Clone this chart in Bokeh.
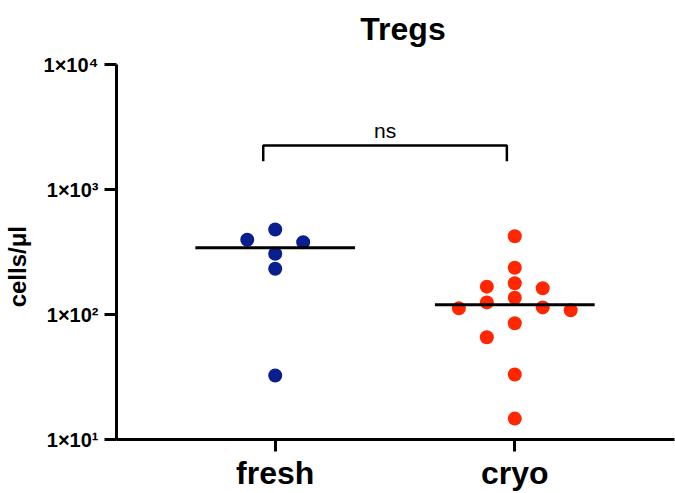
import numpy as np
from bokeh.plotting import figure
from bokeh.models import Range1d, FixedTicker, Label
from bokeh.embed import file_html
from bokeh.resources import INLINE

# ---------------- data ----------------
groups = ["fresh", "cryo"]
fresh_vals = [479, 396, 379, 306, 232, 32.5]
cryo_vals = [423, 236.5, 178, 167, 162, 136, 125, 114, 112, 108, 85, 65.8, 33.1, 14.7]
y_ticks = [10, 100, 1000, 10000]
y_tick_labels = ["1×10¹", "1×10²", "1×10³", "1×10⁴"]
title_text = "Tregs"
y_label = "cells/μl"
sig_text = "ns"

# ---------------- layout / style ----------------
W, H = 675, 493
LEFT, RIGHT, BOTTOM = 115, 1, 54
TOP_GAP = 64              # px between canvas top and the 1e4 tick
X0, X1 = 0.3375, 2.6667
Y0, YT = 10, 10000        # axis extent (bounds)
FONT = "Liberation Sans"
colors = ["#0a1e8e", "#ff2600"]
DOT = 14          # marker diameter px
STEP_PX = 28      # swarm horizontal step px
ROW_PX = 14       # swarm row height px
MED_HALF = 1 / 3  # half-width of median line, data units
LABEL_PAD = 14    # trailing no-break spaces to centre the y label on the axis

frame_w = W - LEFT - RIGHT
frame_h = H - BOTTOM
px_per_x = frame_w / (X1 - X0)
axis_px = frame_h - TOP_GAP
px_per_dec = axis_px / (np.log10(YT) - np.log10(Y0))
Y1 = 10 ** (np.log10(YT) + TOP_GAP / px_per_dec)


def swarm(vals, center):
    ys = np.log10(np.asarray(vals, float)) * px_per_dec
    order = np.argsort(-ys, kind="stable")
    rows, cur, start = [], [], None
    for i in order:
        if cur and start - ys[i] < ROW_PX:
            cur.append(i)
        else:
            if cur:
                rows.append(cur)
            cur, start = [i], ys[i]
    rows.append(cur)
    slots = [0, -1, 1, -2, 2, -3, 3, -4, 4]
    off = np.zeros(len(vals))
    for r in rows:
        for k, i in enumerate(r):
            off[i] = slots[k]
    return center + off * STEP_PX / px_per_x


p = figure(width=W, height=H, y_axis_type="log",
           x_range=Range1d(X0, X1), y_range=Range1d(Y0, Y1),
           output_backend="svg", toolbar_location=None,
           min_border_left=LEFT, min_border_right=RIGHT,
           min_border_top=0, min_border_bottom=BOTTOM)
p.outline_line_color = None
p.xgrid.visible = False
p.ygrid.visible = False
p.background_fill_color = "white"
p.border_fill_color = "white"

# title (placed above the 1e4 tick, inside the canvas area)
title_y = 10 ** (np.log10(YT) + (TOP_GAP - 28) / px_per_dec)
title_x = X0 + 287 / px_per_x
p.add_layout(Label(x=title_x, y=title_y, text=title_text, text_align="center",
                   text_baseline="alphabetic", text_font=FONT, text_font_style="bold",
                   text_font_size="32px", text_color="black"))

for gi, (vals, col) in enumerate(zip([fresh_vals, cryo_vals], colors)):
    c = gi + 1
    xs = swarm(vals, c)
    p.scatter(xs, vals, size=DOT, marker="circle", fill_color=col, line_color=col, line_width=0)
    med = float(np.median(vals))
    p.line([c - MED_HALF, c + MED_HALF], [med, med], line_color="black", line_width=3)

# significance bracket
BX = (0.95, 1.967)
BY_TOP, BY_BOT = 2249, 1684
p.line([BX[0], BX[0], BX[1], BX[1]], [BY_BOT, BY_TOP, BY_TOP, BY_BOT],
       line_color="black", line_width=2.5)
p.add_layout(Label(x=(BX[0] + BX[1]) / 2, y=2965, text=sig_text, text_align="center",
                   text_baseline="alphabetic", text_font=FONT, text_font_size="21px",
                   text_color="black"))

# axes
for ax in (p.xaxis[0], p.yaxis[0]):
    ax.axis_line_width = 3
    ax.axis_line_color = "black"
    ax.major_tick_line_width = 3
    ax.major_tick_line_color = "black"
    ax.major_tick_out = 12
    ax.major_tick_in = 0
    ax.minor_tick_line_color = None
    ax.major_label_text_font = FONT
    ax.major_label_text_font_style = "bold"
    ax.major_label_text_color = "black"

p.yaxis.bounds = (Y0, YT)
p.yaxis.ticker = FixedTicker(ticks=y_ticks)
p.yaxis.major_label_overrides = {t: l for t, l in zip(y_ticks, y_tick_labels)}
p.yaxis.major_label_text_font_size = "20px"
p.yaxis.major_label_standoff = 6
p.yaxis.axis_label = y_label + "\u00a0" * LABEL_PAD
p.yaxis.axis_label_text_font = FONT
p.yaxis.axis_label_text_font_style = "bold"
p.yaxis.axis_label_text_font_size = "24px"
p.yaxis.axis_label_text_color = "black"
p.yaxis.axis_label_standoff = 10

p.xaxis.ticker = FixedTicker(ticks=[1, 2])
p.xaxis.major_label_overrides = {1: groups[0], 2: groups[1]}
p.xaxis.major_label_text_font_size = "32px"
p.xaxis.major_label_standoff = 3

open("out.html", "w").write(file_html(p, INLINE))
